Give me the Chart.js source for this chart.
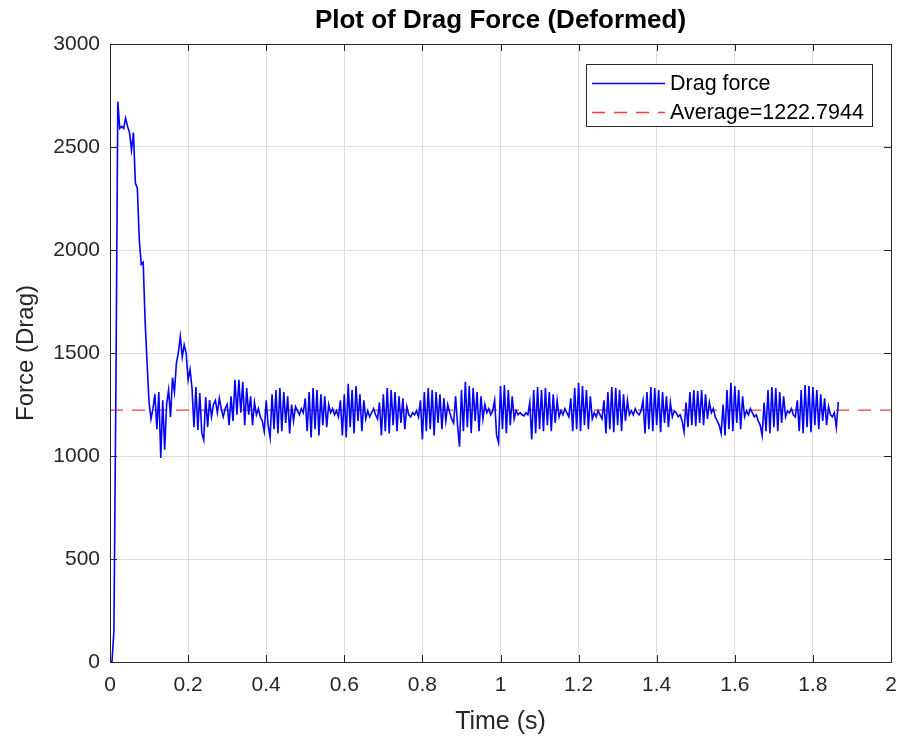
<!DOCTYPE html>
<html>
<head>
<meta charset="utf-8">
<title>Plot of Drag Force (Deformed)</title>
<script src="https://cdn.jsdelivr.net/npm/chart.js@4.4.1/dist/chart.umd.min.js"></script>
<style>
  html, body { margin: 0; padding: 0; background: #fff; }
</style>
</head>
<body>
<canvas id="dragChart" width="903" height="742"></canvas>
<script>
//! Data: one drag value every 0.005 s, starting at t = 0
const timeStep = 0.005;
const dragForce = [
    0, 0, 150, 1300, 2720, 2590, 2600, 2590, 2640, 2600, 2570, 2485, 2570, 2325, 2300, 2050, 1930, 1940, 1650, 1450, 1260, 1180,
    1230, 1300, 1130, 1310, 990, 1270, 1030, 1250, 1320, 1190, 1380, 1310, 1450, 1500, 1580, 1480, 1540, 1500, 1370, 1420, 1330, 1140,
    1335, 1126, 1306, 1112, 1078, 1286, 1141, 1272, 1190, 1250, 1270, 1210, 1280, 1230, 1190, 1230,
    1250, 1150, 1290, 1170, 1370, 1200, 1370, 1210, 1360, 1150, 1330, 1200, 1290, 1150, 1260,
    1200, 1230, 1190, 1170,
    1120, 1270, 1150, 1090, 1300, 1130, 1320, 1110, 1330, 1120, 1310, 1160, 1290, 1110, 1250, 1170, 1240,
    1220, 1200, 1230, 1210,
    1280, 1120, 1310, 1090, 1330, 1130, 1320, 1100, 1300, 1150, 1290, 1140, 1250,
    1210, 1230, 1200, 1220, 1190,
    1270, 1100, 1300, 1090, 1350, 1140, 1320, 1110, 1340, 1170, 1300, 1120, 1270, 1180,
    1220, 1190, 1210, 1230, 1200, 1180,
    1260, 1100, 1300, 1120, 1330, 1110, 1320, 1150, 1310, 1120, 1290, 1160, 1280, 1130, 1240,
    1200, 1190, 1210, 1200, 1220, 1190,
    1270, 1080, 1310, 1120, 1330, 1130, 1320, 1100, 1310, 1160, 1300, 1130, 1280, 1170, 1250,
    1210, 1180, 1160,
    1290, 1150, 1045, 1320, 1120, 1360, 1140, 1340, 1110, 1330, 1170, 1310, 1120, 1290, 1180, 1250,
    1210, 1230, 1200, 1220,
    1270, 1100, 1065, 1340, 1130, 1345, 1110, 1320, 1150, 1290, 1180,
    1220, 1200, 1210, 1200, 1195, 1210, 1200,
    1260, 1080, 1320, 1110, 1335, 1130, 1320, 1120, 1330, 1150, 1310, 1120, 1300, 1160, 1270, 1190,
    1220, 1200, 1230, 1210, 1190,
    1280, 1120, 1330, 1130, 1355, 1120, 1340, 1150, 1320, 1130, 1290, 1180,
    1210, 1190, 1220, 1200, 1180,
    1270, 1110, 1310, 1130, 1335, 1115, 1330, 1150, 1320, 1120, 1300, 1170, 1270, 1200,
    1220, 1200, 1230, 1210, 1200, 1220,
    1270, 1110, 1310, 1130, 1335, 1120, 1330, 1150, 1320, 1115, 1310, 1160, 1290, 1140, 1260, 1190,
    1220, 1210, 1190, 1200, 1170, 1117,
    1260, 1140, 1310, 1150, 1320, 1145, 1315, 1160, 1320, 1150, 1300, 1180, 1260,
    1210, 1230, 1190, 1170, 1150, 1110,
    1250, 1100, 1320, 1130, 1355, 1120, 1340, 1160, 1320, 1130, 1290, 1190,
    1220, 1200, 1230, 1210, 1190, 1200, 1170, 1150, 1100,
    1260, 1120, 1320, 1110, 1335, 1140, 1330, 1120, 1310, 1160, 1290, 1190,
    1220, 1210, 1230, 1200, 1190,
    1270, 1120, 1320, 1110, 1345, 1140, 1340, 1115, 1335, 1150, 1320, 1130, 1300, 1170, 1280, 1150, 1240,
    1200, 1190, 1210, 1140, 1262
];
const averageForce = 1222.7944;
const averageTimes = [0, 2];
const xTicks = [0, 0.2, 0.4, 0.6, 0.8, 1, 1.2, 1.4, 1.6, 1.8, 2];
const yTicks = [0, 500, 1000, 1500, 2000, 2500, 3000];
const legendLabels = ["Drag force", "Average=" + averageForce.toFixed(4)];

const FONT = "'Liberation Sans', Arial, Helvetica, sans-serif";
const AXIS_COLOR = "#262626";

//! MATLAB-like frame: box, inward ticks and a legend inside the axes
const matlabFrame = {
    id: "matlabFrame",
    afterDatasetsDraw(chart) {
        const { ctx, chartArea: a, scales } = chart;
        ctx.save();
        ctx.strokeStyle = AXIS_COLOR;
        ctx.lineWidth = 1;
        ctx.setLineDash([]);
        ctx.beginPath();
        xTicks.forEach(v => {
            const px = Math.round(scales.x.getPixelForValue(v)) + 0.5;
            ctx.moveTo(px, a.bottom); ctx.lineTo(px, a.bottom - 7);
            ctx.moveTo(px, a.top); ctx.lineTo(px, a.top + 7);
        });
        yTicks.forEach(v => {
            const py = Math.round(scales.y.getPixelForValue(v)) + 0.5;
            ctx.moveTo(a.left, py); ctx.lineTo(a.left + 7, py);
            ctx.moveTo(a.right, py); ctx.lineTo(a.right - 7, py);
        });
        ctx.stroke();
        ctx.strokeRect(Math.round(a.left) + 0.5, Math.round(a.top) + 0.5,
            Math.round(a.right - a.left), Math.round(a.bottom - a.top));

        // legend
        const bx = 586, by = 64, bw = 286, bh = 62;
        ctx.fillStyle = "#fff";
        ctx.fillRect(bx, by, bw, bh);
        ctx.strokeRect(bx + 0.5, by + 0.5, bw, bh);
        const rows = [by + 19, by + 48];
        chart.data.datasets.forEach((ds, i) => {
            ctx.strokeStyle = ds.borderColor;
            ctx.lineWidth = 1.5;
            ctx.setLineDash(ds.borderDash || []);
            ctx.beginPath();
            ctx.moveTo(bx + 6, rows[i] + 0.5);
            ctx.lineTo(bx + 79, rows[i] + 0.5);
            ctx.stroke();
            ctx.setLineDash([]);
            ctx.fillStyle = "#000";
            ctx.font = "21.5px " + FONT;
            ctx.textBaseline = "middle";
            ctx.fillText(legendLabels[i], bx + 84, rows[i] + 1);
        });
        ctx.restore();
    }
};

const ctx = document.getElementById("dragChart").getContext("2d");
new Chart(ctx, {
    type: "line",
    data: {
        datasets: [
            {
                label: legendLabels[0],
                data: dragForce.map((f, i) => ({ x: i * timeStep, y: f })),
                borderColor: "#0000ff",
                borderWidth: 1.6,
                pointRadius: 0,
                tension: 0
            },
            {
                label: legendLabels[1],
                data: averageTimes.map(t => ({ x: t, y: averageForce })),
                borderColor: "#ff3b3b",
                borderWidth: 1.2,
                borderDash: [13, 9],
                pointRadius: 0
            }
        ]
    },
    options: {
        responsive: false,
        animation: false,
        events: [],
        layout: { padding: { left: 0, right: 12, top: 0, bottom: 0 } },
        plugins: {
            legend: { display: false },
            tooltip: { enabled: false },
            title: {
                display: true,
                text: "Plot of Drag Force (Deformed)",
                fullSize: false,
                color: "#000",
                font: { family: FONT, size: 26, weight: "bold" },
                padding: { top: 5, bottom: 7.8 }
            }
        },
        scales: {
            x: {
                type: "linear",
                min: 0,
                max: 2,
                afterBuildTicks: s => { s.ticks = xTicks.map(v => ({ value: v })); },
                afterFit: s => { s.height = 80; s.paddingLeft = 0; s.paddingRight = 0; },
                grid: { color: "#dedede", drawTicks: false },
                border: { display: false },
                ticks: {
                    padding: 11,
                    color: AXIS_COLOR,
                    font: { family: FONT, size: 21 },
                    maxRotation: 0,
                    callback: v => String(Number(v.toFixed(1)))
                },
                title: {
                    display: true,
                    text: "Time (s)",
                    color: AXIS_COLOR,
                    font: { family: FONT, size: 25 },
                    padding: { top: 0, bottom: 5 }
                }
            },
            y: {
                min: 0,
                max: 3000,
                afterBuildTicks: s => { s.ticks = yTicks.map(v => ({ value: v })); },
                afterFit: s => { s.width = 110; },
                grid: { color: "#dedede", drawTicks: false },
                border: { display: false },
                ticks: {
                    padding: 10,
                    color: AXIS_COLOR,
                    font: { family: FONT, size: 21 },
                    callback: v => String(v)
                },
                title: {
                    display: true,
                    text: "Force (Drag)",
                    color: AXIS_COLOR,
                    font: { family: FONT, size: 24 },
                    padding: { top: 12, bottom: 0 }
                }
            }
        }
    },
    plugins: [matlabFrame]
});
</script>
</body>
</html>
